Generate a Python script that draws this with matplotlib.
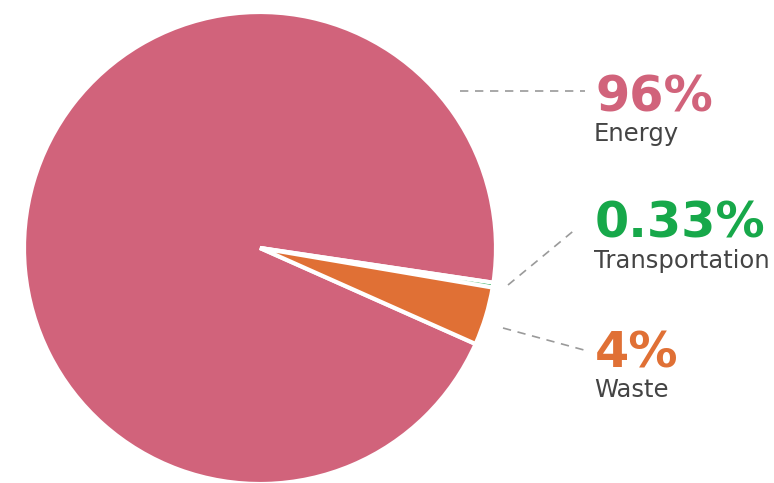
import matplotlib
matplotlib.use("Agg")
import matplotlib.pyplot as plt

categories = ["Energy", "Transportation", "Waste"]
values = [96, 0.33, 4]
pct_labels = ["96%", "0.33%", "4%"]
colors = ["#D1637B", "#17A84A", "#E07035"]

W, H = 774, 483
fig = plt.figure(figsize=(W / 100, H / 100), dpi=100)
ax = fig.add_axes([0, 0, 1, 1])

def py(y):
    return H - y

ax.pie(values, colors=colors, center=(260, py(248)), radius=236,
       startangle=-24.0, counterclock=False,
       wedgeprops=dict(edgecolor="white", linewidth=3))
ax.set_xlim(0, W)
ax.set_ylim(0, H)
ax.set_aspect("equal")
ax.axis("off")

# leader lines (pixel coords)
leaders = [((460, 91), (585, 91)),
           ((508, 285), (577, 228)),
           ((503, 328), (584, 350))]
for (x0, y0), (x1, y1) in leaders:
    ax.plot([x0, x1], [py(y0), py(y1)], color="#9a9a9a", lw=1.2,
            ls=(0, (5, 4)))

pct_base = [111, 238, 367]
name_base = [141, 268, 397]
for i, cat in enumerate(categories):
    ax.text(595, py(pct_base[i]), pct_labels[i], color=colors[i],
            fontsize=35.5, fontweight="bold", va="baseline", ha="left",
            family="DejaVu Sans")
    ax.text(594, py(name_base[i]), cat, color="#444444", fontsize=17.5,
            va="baseline", ha="left", family="DejaVu Sans")

fig.savefig("out.png", dpi=100, facecolor="white")
